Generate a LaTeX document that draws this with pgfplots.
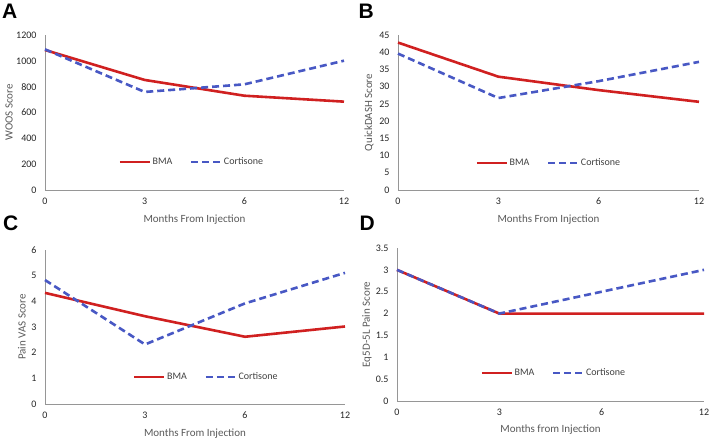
\documentclass[border=0pt]{standalone}
\usepackage{fontspec}
\setmainfont{Carlito}
\newfontfamily\panelfont{Liberation Sans}
\usepackage{pgfplots}
\usepackage{pgfplotstable}
\pgfplotsset{compat=1.18}
\definecolor{bmared}{RGB}{208,32,32}
\definecolor{cortblue}{RGB}{72,88,196}
\definecolor{axgray}{RGB}{150,150,150}

\pgfplotstableread{
x bma cort
0 1084 1089
1 852 759
2 730 818
3 684 1001
}\dataA
\pgfplotstableread{
x bma cort
0 42.8 39.6
1 32.9 26.7
2 29.0 31.6
3 25.6 37.2
}\dataB
\pgfplotstableread{
x bma cort
0 4.33 4.83
1 3.42 2.32
2 2.62 3.92
3 3.02 5.11
}\dataC
\pgfplotstableread{
x bma cort
0 3 3
1 2 2
2 2 2.5
3 2 3
}\dataD

\pgfplotsset{
 panel/.style={
  scale only axis,
  anchor=south west,
  clip=false,
  xmin=0, xmax=3,
  xtick={0,1,2,3}, xticklabels={0,3,6,12},
  ymin=0,
  axis x line=bottom, axis y line=left,
  axis line style={-, draw=axgray, line width=0.8bp},
  major tick length=0pt,
  /pgf/number format/assume math mode=true,
  /pgf/number format/1000 sep={},
  tick label style={font=\fontsize{10bp}{12bp}\selectfont, text=black!85},
  xticklabel style={yshift=-4bp},
  yticklabel style={xshift=-5bp},
  label style={font=\fontsize{11bp}{13bp}\selectfont, text=black!65},
  xlabel style={at={(axis description cs:0.5,-0.19)}, anchor=center},
  legend style={at={(0.5,0.18)}, anchor=center, draw=none, fill=none,
    font=\fontsize{10bp}{12bp}\selectfont, text=black!75,
    legend columns=2,
    /tikz/every even column/.append style={column sep=16bp},
    nodes={inner sep=1.5bp}},
  legend image code/.code={\draw[##1] (0bp,0bp) -- (30bp,0bp);},
 },
 bma/.style={draw=bmared, line width=2.6bp},
 cort/.style={draw=cortblue, line width=2.6bp, dash pattern=on 7bp off 4bp},
}

\begin{document}
\begin{tikzpicture}
\path[use as bounding box] (0,0) rectangle (711bp,442bp);

\begin{axis}[panel, at={(45bp,252bp)}, width=299bp, height=155bp,
  ymax=1200, ytick={0,200,...,1200},
  legend style={at={(0.49,0.18)}},
  xlabel={Months From Injection}, ylabel={WOOS Score},
  ylabel style={at={(axis description cs:-0.12,0.5)}, anchor=center}]
\addplot[bma] table[x=x,y=bma] {\dataA};
\addplot[cort] table[x=x,y=cort] {\dataA};
\legend{BMA, Cortisone}
\end{axis}

\begin{axis}[panel, at={(398bp,252bp)}, width=301bp, height=155bp,
  ymax=45, ytick={0,5,...,45},
  legend style={at={(0.5,0.175)}},
  xlabel={Months From Injection}, ylabel={QuickDASH Score},
  ylabel style={at={(axis description cs:-0.096,0.5)}, anchor=center}]
\addplot[bma] table[x=x,y=bma] {\dataB};
\addplot[cort] table[x=x,y=cort] {\dataB};
\legend{BMA, Cortisone}
\end{axis}

\begin{axis}[panel, at={(45bp,38bp)}, width=300bp, height=154bp,
  ymax=6, ytick={0,1,...,6},
  legend style={at={(0.537,0.175)}},
  xlabel={Months From Injection}, ylabel={Pain VAS Score},
  ylabel style={at={(axis description cs:-0.077,0.5)}, anchor=center}]
\addplot[bma] table[x=x,y=bma] {\dataC};
\addplot[cort] table[x=x,y=cort] {\dataC};
\legend{BMA, Cortisone}
\end{axis}

\begin{axis}[panel, at={(397bp,41bp)}, width=307bp, height=153bp,
  ymax=3.5, ytick={0,0.5,1,1.5,2,2.5,3,3.5},
  legend style={at={(0.51,0.183)}},
  xlabel={Months from Injection}, ylabel={Eq5D-5L Pain Score},
  ylabel style={at={(axis description cs:-0.098,0.5)}, anchor=center}]
\addplot[bma] table[x=x,y=bma] {\dataD};
\addplot[cort] table[x=x,y=cort] {\dataD};
\legend{BMA, Cortisone}
\end{axis}

\node[anchor=base west, inner sep=0pt, font=\panelfont\bfseries\fontsize{21bp}{24bp}\selectfont] at (2bp,423bp) {A};
\node[anchor=base west, inner sep=0pt, font=\panelfont\bfseries\fontsize{21bp}{24bp}\selectfont] at (358.5bp,423bp) {B};
\node[anchor=base west, inner sep=0pt, font=\panelfont\bfseries\fontsize{21bp}{24bp}\selectfont] at (3bp,211bp) {C};
\node[anchor=base west, inner sep=0pt, font=\panelfont\bfseries\fontsize{21bp}{24bp}\selectfont] at (359.5bp,211bp) {D};
\end{tikzpicture}
\end{document}
